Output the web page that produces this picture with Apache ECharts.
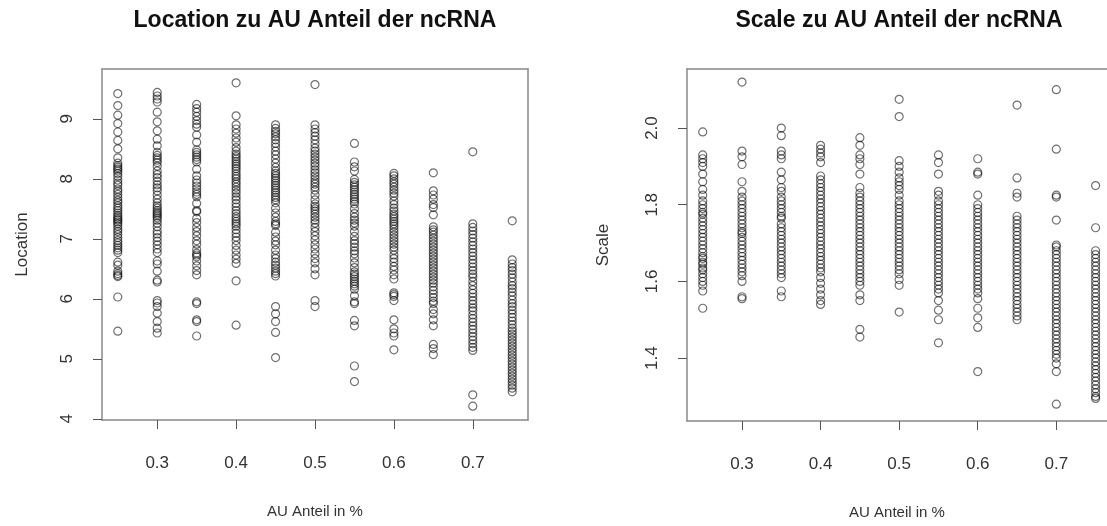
<!DOCTYPE html>
<html>
<head>
<meta charset="utf-8">
<script src="https://cdn.jsdelivr.net/npm/echarts@6/dist/echarts.min.js"></script>
<style>
html,body{margin:0;padding:0;background:#fff;}
#chart{width:1107px;height:526px;}
</style>
</head>
<body>
<div id="chart"></div>
<script>
// ---- categories (AU Anteil) ----
const auShare = [0.25, 0.30, 0.35, 0.40, 0.45, 0.50, 0.55, 0.60, 0.65, 0.70, 0.75];
const xTicks = [0.3, 0.4, 0.5, 0.6, 0.7];
const locTicks = [4, 5, 6, 7, 8, 9];
const scaleTicks = [1.4, 1.6, 1.8, 2.0];

// ---- Location values per AU column ----
const loc25 = [9.42, 9.22, 9.06, 8.92, 8.78, 8.64, 8.50, 8.35, 8.26, 8.22, 8.19, 8.16, 8.13, 8.09, 8.04, 7.98, 7.93, 7.89, 7.83, 7.79, 7.74, 7.69, 7.64, 7.60, 7.55, 7.51, 7.47, 7.43, 7.39, 7.36, 7.33, 7.31, 7.28, 7.25, 7.21, 7.16, 7.12, 7.07, 7.02, 6.97, 6.93, 6.89, 6.85, 6.81, 6.77, 6.61, 6.56, 6.46, 6.42, 6.39, 6.37, 6.03, 5.46];
const loc30 = [9.44, 9.38, 9.33, 9.28, 9.11, 8.95, 8.80, 8.66, 8.55, 8.44, 8.39, 8.35, 8.31, 8.27, 8.21, 8.13, 8.07, 8.02, 7.96, 7.90, 7.85, 7.80, 7.73, 7.66, 7.60, 7.55, 7.51, 7.47, 7.44, 7.41, 7.38, 7.35, 7.31, 7.26, 7.20, 7.13, 7.08, 7.02, 6.96, 6.90, 6.83, 6.77, 6.63, 6.58, 6.46, 6.31, 6.28, 5.97, 5.93, 5.87, 5.76, 5.62, 5.51, 5.43];
const loc35 = [9.24, 9.17, 9.11, 9.04, 8.97, 8.91, 8.86, 8.73, 8.61, 8.48, 8.44, 8.40, 8.36, 8.32, 8.28, 8.16, 8.05, 7.98, 7.93, 7.88, 7.83, 7.78, 7.74, 7.70, 7.59, 7.47, 7.45, 7.34, 7.27, 7.19, 7.12, 7.05, 6.97, 6.91, 6.82, 6.76, 6.73, 6.70, 6.63, 6.55, 6.47, 6.40, 5.95, 5.92, 5.65, 5.62, 5.38];
const loc40 = [9.60, 9.05, 8.90, 8.83, 8.76, 8.68, 8.61, 8.52, 8.46, 8.41, 8.37, 8.33, 8.29, 8.25, 8.21, 8.17, 8.13, 8.08, 8.04, 8.00, 7.95, 7.91, 7.86, 7.81, 7.76, 7.70, 7.65, 7.59, 7.53, 7.47, 7.42, 7.37, 7.33, 7.29, 7.25, 7.21, 7.15, 7.09, 7.03, 6.97, 6.89, 6.81, 6.73, 6.66, 6.59, 6.30, 5.56];
const loc45 = [8.90, 8.84, 8.79, 8.75, 8.70, 8.65, 8.59, 8.53, 8.46, 8.40, 8.33, 8.26, 8.19, 8.13, 8.09, 8.05, 8.01, 7.97, 7.93, 7.89, 7.85, 7.81, 7.77, 7.73, 7.69, 7.65, 7.60, 7.51, 7.43, 7.36, 7.29, 7.25, 7.22, 7.11, 7.03, 6.96, 6.90, 6.81, 6.73, 6.67, 6.61, 6.56, 6.51, 6.46, 6.42, 6.38, 5.87, 5.75, 5.62, 5.44, 5.02];
const loc50 = [9.57, 8.90, 8.83, 8.77, 8.71, 8.65, 8.58, 8.51, 8.46, 8.41, 8.36, 8.31, 8.26, 8.21, 8.15, 8.10, 8.05, 8.00, 7.95, 7.91, 7.86, 7.81, 7.73, 7.65, 7.58, 7.54, 7.50, 7.46, 7.41, 7.36, 7.31, 7.26, 7.19, 7.12, 7.05, 6.98, 6.90, 6.83, 6.75, 6.67, 6.60, 6.50, 6.40, 5.97, 5.87];
const loc55 = [8.59, 8.28, 8.20, 8.13, 7.99, 7.94, 7.90, 7.86, 7.82, 7.78, 7.74, 7.70, 7.66, 7.62, 7.58, 7.50, 7.42, 7.36, 7.31, 7.26, 7.21, 7.12, 7.04, 6.97, 6.92, 6.86, 6.80, 6.75, 6.68, 6.60, 6.52, 6.45, 6.41, 6.37, 6.33, 6.29, 6.25, 6.21, 6.16, 6.05, 5.95, 5.92, 5.64, 5.55, 4.88, 4.62];
const loc60 = [8.09, 8.05, 8.00, 7.95, 7.91, 7.86, 7.81, 7.76, 7.71, 7.63, 7.57, 7.51, 7.46, 7.41, 7.37, 7.33, 7.29, 7.25, 7.21, 7.16, 7.11, 7.06, 7.01, 6.96, 6.91, 6.86, 6.81, 6.73, 6.67, 6.61, 6.54, 6.48, 6.40, 6.33, 6.10, 6.07, 6.04, 5.97, 5.65, 5.50, 5.43, 5.38, 5.15];
const loc65 = [8.10, 7.80, 7.73, 7.66, 7.57, 7.52, 7.40, 7.20, 7.15, 7.11, 7.06, 7.01, 6.96, 6.91, 6.86, 6.81, 6.76, 6.71, 6.66, 6.61, 6.56, 6.51, 6.46, 6.41, 6.36, 6.31, 6.26, 6.20, 6.14, 6.08, 6.02, 5.96, 5.92, 5.82, 5.75, 5.65, 5.55, 5.24, 5.17, 5.07];
const loc70 = [8.45, 7.25, 7.19, 7.13, 7.07, 7.01, 6.95, 6.89, 6.83, 6.77, 6.71, 6.65, 6.59, 6.53, 6.47, 6.41, 6.36, 6.29, 6.22, 6.15, 6.09, 6.03, 5.97, 5.91, 5.85, 5.80, 5.73, 5.67, 5.61, 5.55, 5.49, 5.43, 5.37, 5.31, 5.25, 5.19, 5.14, 4.40, 4.21];
const loc75 = [7.30, 6.65, 6.58, 6.52, 6.47, 6.41, 6.35, 6.28, 6.22, 6.17, 6.11, 6.05, 5.98, 5.92, 5.87, 5.81, 5.75, 5.69, 5.63, 5.57, 5.51, 5.46, 5.41, 5.36, 5.31, 5.26, 5.21, 5.16, 5.11, 5.06, 5.01, 4.96, 4.91, 4.86, 4.81, 4.76, 4.71, 4.66, 4.61, 4.56, 4.51, 4.45];

// ---- Scale values per AU column ----
const sc25 = [1.99, 1.93, 1.92, 1.91, 1.90, 1.88, 1.86, 1.84, 1.825, 1.81, 1.80, 1.79, 1.78, 1.775, 1.765, 1.755, 1.745, 1.735, 1.725, 1.715, 1.705, 1.695, 1.685, 1.675, 1.665, 1.66, 1.65, 1.645, 1.635, 1.63, 1.62, 1.61, 1.60, 1.59, 1.575, 1.53];
const sc30 = [2.12, 1.94, 1.925, 1.905, 1.86, 1.835, 1.82, 1.81, 1.80, 1.79, 1.78, 1.77, 1.76, 1.75, 1.74, 1.73, 1.725, 1.715, 1.705, 1.695, 1.685, 1.675, 1.665, 1.655, 1.645, 1.635, 1.625, 1.615, 1.60, 1.56, 1.555];
const sc35 = [2.00, 1.98, 1.94, 1.93, 1.92, 1.885, 1.865, 1.845, 1.835, 1.82, 1.81, 1.80, 1.79, 1.78, 1.77, 1.765, 1.75, 1.74, 1.73, 1.72, 1.71, 1.70, 1.69, 1.68, 1.67, 1.66, 1.65, 1.64, 1.63, 1.62, 1.61, 1.575, 1.56];
const sc40 = [1.955, 1.945, 1.935, 1.925, 1.91, 1.875, 1.865, 1.855, 1.845, 1.835, 1.825, 1.815, 1.805, 1.795, 1.785, 1.775, 1.765, 1.755, 1.745, 1.735, 1.725, 1.715, 1.705, 1.695, 1.685, 1.675, 1.665, 1.655, 1.645, 1.635, 1.625, 1.61, 1.595, 1.58, 1.565, 1.55, 1.54];
const sc45 = [1.975, 1.955, 1.93, 1.92, 1.905, 1.88, 1.845, 1.83, 1.82, 1.81, 1.80, 1.79, 1.78, 1.77, 1.76, 1.75, 1.74, 1.73, 1.72, 1.71, 1.70, 1.69, 1.68, 1.67, 1.66, 1.65, 1.64, 1.63, 1.62, 1.61, 1.60, 1.59, 1.565, 1.55, 1.475, 1.455];
const sc50 = [2.075, 2.03, 1.915, 1.90, 1.885, 1.87, 1.86, 1.85, 1.84, 1.825, 1.81, 1.80, 1.79, 1.78, 1.77, 1.76, 1.75, 1.74, 1.73, 1.72, 1.71, 1.70, 1.69, 1.68, 1.67, 1.66, 1.65, 1.64, 1.63, 1.62, 1.605, 1.59, 1.52];
const sc55 = [1.93, 1.91, 1.88, 1.835, 1.825, 1.81, 1.80, 1.79, 1.78, 1.77, 1.76, 1.75, 1.74, 1.73, 1.72, 1.71, 1.70, 1.69, 1.68, 1.67, 1.66, 1.65, 1.64, 1.63, 1.62, 1.61, 1.60, 1.59, 1.58, 1.57, 1.55, 1.525, 1.50, 1.44];
const sc60 = [1.92, 1.885, 1.88, 1.825, 1.80, 1.79, 1.78, 1.77, 1.76, 1.75, 1.74, 1.73, 1.72, 1.71, 1.70, 1.69, 1.68, 1.67, 1.66, 1.65, 1.64, 1.63, 1.62, 1.61, 1.60, 1.59, 1.58, 1.57, 1.555, 1.53, 1.505, 1.48, 1.365];
const sc65 = [2.06, 1.87, 1.83, 1.82, 1.77, 1.76, 1.75, 1.74, 1.73, 1.72, 1.71, 1.70, 1.69, 1.68, 1.67, 1.66, 1.65, 1.64, 1.63, 1.62, 1.61, 1.60, 1.59, 1.58, 1.57, 1.56, 1.55, 1.54, 1.53, 1.52, 1.51, 1.50];
const sc70 = [2.10, 1.945, 1.825, 1.82, 1.76, 1.695, 1.69, 1.68, 1.67, 1.66, 1.65, 1.64, 1.63, 1.62, 1.61, 1.60, 1.59, 1.58, 1.57, 1.56, 1.55, 1.54, 1.53, 1.52, 1.51, 1.50, 1.49, 1.48, 1.47, 1.46, 1.45, 1.44, 1.43, 1.42, 1.41, 1.40, 1.385, 1.365, 1.28];
const sc75 = [1.85, 1.74, 1.68, 1.67, 1.66, 1.65, 1.64, 1.63, 1.62, 1.61, 1.60, 1.59, 1.58, 1.57, 1.56, 1.55, 1.54, 1.53, 1.52, 1.51, 1.50, 1.49, 1.48, 1.47, 1.46, 1.45, 1.44, 1.43, 1.42, 1.41, 1.40, 1.39, 1.38, 1.37, 1.36, 1.35, 1.34, 1.33, 1.32, 1.31, 1.30, 1.295];

const locCols = [loc25, loc30, loc35, loc40, loc45, loc50, loc55, loc60, loc65, loc70, loc75];
const scCols = [sc25, sc30, sc35, sc40, sc45, sc50, sc55, sc60, sc65, sc70, sc75];

function pairs(cols) {
  const out = [];
  cols.forEach((col, i) => col.forEach(v => out.push([auShare[i], v])));
  return out;
}

const FONT = '"Liberation Sans", Arial, Helvetica, sans-serif';
const TXT = '#333';
const BOX = { show: true, onZero: false, lineStyle: { color: '#888', width: 1.5 } };

function xAxisCfg(gridIndex, max) {
  return {
    gridIndex, type: 'value', min: 0.23, max,
    name: 'AU Anteil in %', nameLocation: 'middle', nameGap: 84,
    nameTextStyle: { fontFamily: FONT, fontSize: 15, color: TXT },
    axisLine: BOX,
    splitLine: { show: false },
    axisTick: { show: true, length: 9, customValues: xTicks, lineStyle: { color: '#555', width: 1 } },
    axisLabel: { show: true, customValues: xTicks, margin: 35, fontFamily: FONT, fontSize: 17, color: TXT,
      formatter: v => v.toFixed(1) }
  };
}
function boxXAxis(gridIndex, max) {
  return { gridIndex, type: 'value', min: 0.23, max, position: 'top',
    axisLine: BOX, axisTick: { show: false }, axisLabel: { show: false }, splitLine: { show: false } };
}
function yAxisCfg(gridIndex, name, min, max, ticks, fmt, gap) {
  return {
    gridIndex, type: 'value', min, max,
    name, nameLocation: 'middle', nameRotate: 90, nameGap: gap,
    nameTextStyle: { fontFamily: FONT, fontSize: 17, color: TXT },
    axisLine: BOX,
    splitLine: { show: false },
    axisTick: { show: true, length: 9, customValues: ticks, lineStyle: { color: '#555', width: 1 } },
    axisLabel: { show: true, customValues: ticks, rotate: 90, margin: 26, fontFamily: FONT, fontSize: 17, color: TXT,
      formatter: fmt }
  };
}

const pointStyle = {
  symbol: 'circle', symbolSize: 8,
  itemStyle: { color: 'rgba(0,0,0,0)', borderColor: 'rgba(0,0,0,0.7)', borderWidth: 1.2 }
};

const chart = echarts.init(document.getElementById('chart'), null, { renderer: 'canvas' });
chart.setOption({
  animation: false,
  backgroundColor: '#fff',
  title: [
    { text: 'Location zu AU Anteil der ncRNA', left: 315, top: 9, textAlign: 'center', padding: 0,
      textStyle: { fontFamily: FONT, fontWeight: 'bold', fontSize: 23, color: '#111' } },
    { text: 'Scale zu AU Anteil der ncRNA', left: 899, top: 9, textAlign: 'center', padding: 0,
      textStyle: { fontFamily: FONT, fontWeight: 'bold', fontSize: 23, color: '#111' } }
  ],
  grid: [
    { left: 102, top: 69, width: 426, height: 351, show: false, containLabel: false },
    // right panel runs past the picture's right edge; its visible part ends at the canvas edge
    { left: 687, top: 69, right: 0, height: 352, show: false, containLabel: false }
  ],
  xAxis: [xAxisCfg(0, 0.77), xAxisCfg(1, 0.7645), boxXAxis(0, 0.77), boxXAxis(1, 0.7645)],
  yAxis: [
    yAxisCfg(0, 'Location', 3.98, 9.83, locTicks, v => String(v), 71),
    yAxisCfg(1, 'Scale', 1.236, 2.154, scaleTicks, v => v.toFixed(1), 75),
    { gridIndex: 0, type: 'value', min: 3.98, max: 9.83, position: 'right',
      axisLine: BOX, axisTick: { show: false }, axisLabel: { show: false }, splitLine: { show: false } }
  ],
  series: [
    Object.assign({ type: 'scatter', xAxisIndex: 0, yAxisIndex: 0, data: pairs(locCols) }, pointStyle),
    Object.assign({ type: 'scatter', xAxisIndex: 1, yAxisIndex: 1, data: pairs(scCols) }, pointStyle)
  ]
});
</script>
</body>
</html>
